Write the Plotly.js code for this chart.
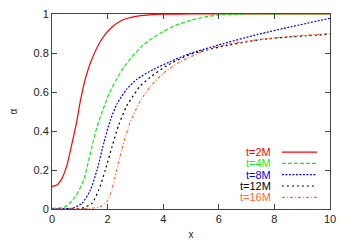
<!DOCTYPE html>
<html>
<head>
<meta charset="utf-8">
<script src="https://cdn.plot.ly/plotly-3.0.1.min.js"></script>
<style>html,body{margin:0;padding:0;background:#fff;}#chart{width:350px;height:245px;}</style>
</head>
<body>
<div id="chart"></div>
<script>
const seriesNames = ["t=2M", "t=4M", "t=8M", "t=12M", "t=16M"];
const seriesColors = ["#ff0000", "#11ee11", "#0000ff", "#000000", "#ff6633"];
const seriesDash = ["solid", "4px,2px", "2px,1.5px", "2px,3px", "3px,2px,1px,2px"];

const x2M = [0, 0.18, 0.36, 0.54, 0.72, 0.9, 1.02, 1.2, 1.44, 1.8, 2.16, 2.52, 3.0, 3.5, 4, 5, 6, 8, 10];
const y2M = [0.116, 0.123, 0.157, 0.226, 0.337, 0.456, 0.554, 0.668, 0.771, 0.873, 0.933, 0.968, 0.988, 0.996, 0.999, 1, 1, 1, 1];

const x4M = [0, 0.48, 0.84, 1.14, 1.38, 1.62, 1.85, 2.05, 2.3, 2.6, 2.9, 3.2, 3.55, 4.0, 4.42, 5.0, 5.5, 6, 7, 8, 10];
const y4M = [0.003, 0.012, 0.063, 0.149, 0.286, 0.422, 0.515, 0.59, 0.66, 0.73, 0.785, 0.83, 0.87, 0.91, 0.94, 0.968, 0.985, 0.995, 1, 1, 1];

const x8M = [0, 0.5, 0.72, 1.08, 1.38, 1.62, 1.86, 2.1, 2.34, 2.69, 3.05, 3.65, 4.24, 4.96, 5.98, 7.42, 8.62, 10];
const y8M = [0.0, 0.001, 0.004, 0.029, 0.097, 0.2, 0.337, 0.456, 0.54, 0.615, 0.665, 0.716, 0.755, 0.797, 0.841, 0.896, 0.935, 0.978];

const x12M = [0, 0.8, 1.08, 1.44, 1.68, 1.92, 2.16, 2.4, 2.69, 2.92, 3.17, 3.53, 4.13, 4.96, 6, 7.42, 8.5, 10];
const y12M = [0, 0.001, 0.004, 0.029, 0.097, 0.2, 0.32, 0.431, 0.53, 0.58, 0.63, 0.675, 0.735, 0.792, 0.83, 0.867, 0.882, 0.896];

const x16M = [0, 1.3, 1.73, 1.97, 2.15, 2.27, 2.39, 2.51, 2.63, 2.8, 3.0, 3.2, 3.53, 4.0, 4.6, 5.0, 5.62, 6.5, 7.42, 8.5, 10];
const y16M = [0, 0.002, 0.012, 0.037, 0.097, 0.166, 0.234, 0.303, 0.365, 0.44, 0.505, 0.56, 0.627, 0.696, 0.755, 0.781, 0.82, 0.85, 0.868, 0.884, 0.9];

const xTickVals = [0, 2, 4, 6, 8, 10];
const yTickVals = [0, 0.2, 0.4, 0.6, 0.8, 1];
const yTickText = ["0", "0.2", "0.4", "0.6", "0.8", "1"];

const xs = [x2M, x4M, x8M, x12M, x16M];
const ys = [y2M, y4M, y8M, y12M, y16M];

const traces = seriesNames.map((n, i) => ({
  x: xs[i], y: ys[i], name: n, type: "scatter", mode: "lines",
  line: {color: seriesColors[i], width: 1.2, dash: seriesDash[i], shape: "spline", smoothing: 0.6},
  showlegend: false, hoverinfo: "skip"
}));

// gnuplot-style key: text right-aligned, sample line to its right
const keyTextX = 0.795, keyLineX0 = 0.827, keyLineX1 = 0.953;
const keyY0 = 0.292, keyStep = 0.058;
const annotations = [];
const shapes = [];
seriesNames.forEach((n, i) => {
  const yy = keyY0 - i * keyStep;
  annotations.push({
    xref: "paper", yref: "paper", x: keyTextX, y: yy, text: n, showarrow: false,
    xanchor: "right", yanchor: "middle",
    font: {family: "Liberation Sans, Arial, sans-serif", size: 11, color: seriesColors[i]}
  });
  shapes.push({
    type: "line", xref: "paper", yref: "paper", x0: keyLineX0, x1: keyLineX1, y0: yy, y1: yy,
    line: {color: seriesColors[i], width: 1.2, dash: seriesDash[i]}
  });
});

const axisCommon = {
  showgrid: false, zeroline: false, showline: true, linecolor: "#444", linewidth: 1,
  mirror: "allticks", ticks: "inside", ticklen: 5, tickcolor: "#444", tickwidth: 1,
  tickfont: {family: "Liberation Sans, Arial, sans-serif", size: 11, color: "#222"}
};

const layout = {
  width: 350, height: 245,
  margin: {l: 52, r: 20, t: 14, b: 36},
  paper_bgcolor: "#fff", plot_bgcolor: "#fff",
  showlegend: false,
  font: {family: "Liberation Sans, Arial, sans-serif", size: 11, color: "#222"},
  xaxis: Object.assign({}, axisCommon, {
    range: [0, 10], tickvals: xTickVals, ticktext: xTickVals.map(String),
    title: {text: "x", font: {size: 10}, standoff: 6}
  }),
  yaxis: Object.assign({}, axisCommon, {
    range: [0, 1], tickvals: yTickVals, ticktext: yTickText,
    title: {text: "α", font: {size: 10}, standoff: 14}
  }),
  annotations: annotations,
  shapes: shapes
};

Plotly.newPlot("chart", traces, layout, {staticPlot: true, displayModeBar: false});
</script>
</body>
</html>
